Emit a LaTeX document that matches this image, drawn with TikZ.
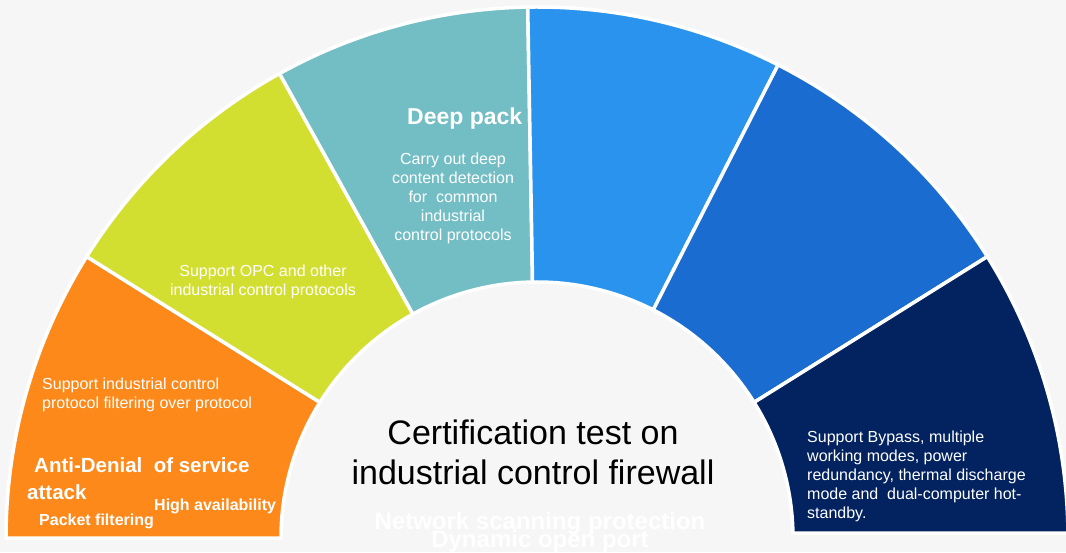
\documentclass[tikz,border=0pt]{standalone}
\usepackage{fontspec}
\setmainfont{Liberation Sans}
\definecolor{bg}{HTML}{F6F6F6}
\definecolor{segorange}{HTML}{FD891B}
\definecolor{segyellow}{HTML}{D3DF30}
\definecolor{segteal}{HTML}{72BEC4}
\definecolor{segblue}{HTML}{2A93ED}
\definecolor{segmid}{HTML}{1B6CD0}
\definecolor{segnavy}{HTML}{022260}
\tikzset{
  seg/.style={draw=white, line width=3.5pt, line join=round},
  body/.style={text=white, inner sep=0pt, font=\fontsize{16}{19}\selectfont},
  boldlbl/.style={text=white, inner sep=0pt, font=\bfseries\fontsize{#1}{#1}\selectfont},
}
\begin{document}
\begin{tikzpicture}[x=1pt,y=1pt]
\useasboundingbox (0,0) rectangle (1066,552);
\fill[bg] (0,0) rectangle (1066,552);
\begin{scope}[shift={(537,14)}]
  \coordinate (C) at (0,0);
  % orange
  \path[seg, fill=segorange] (180:256) -- (180:531) arc[start angle=180, end angle=148, radius=531]
     -- (148:256) arc[start angle=148, end angle=180, radius=256] -- cycle;
  % yellow
  \path[seg, fill=segyellow] (148:256) -- (148:531) arc[start angle=148, end angle=119, radius=531]
     -- (119:256) arc[start angle=119, end angle=148, radius=256] -- cycle;
  % teal
  \path[seg, fill=segteal] (119:256) -- (119:531) arc[start angle=119, end angle=91, radius=531]
     -- (91:256) arc[start angle=91, end angle=119, radius=256] -- cycle;
  \node[boldlbl=23, anchor=base west] (deep) at (-130,413) {Deep pack};
  % blue
  \path[seg, fill=segblue] (91:256) -- (91:531) arc[start angle=91, end angle=63, radius=531]
     -- (63:256) arc[start angle=63, end angle=91, radius=256] -- cycle;
  % mid blue
  \path[seg, fill=segmid] (63:256) -- (63:531) arc[start angle=63, end angle=32, radius=531]
     -- (32:256) arc[start angle=32, end angle=63, radius=256] -- cycle;
  % navy
  \path[seg, fill=segnavy] (32:256) -- (32:531) arc[start angle=32, end angle=0.54, radius=531]
     -- (1.12:256) arc[start angle=1.12, end angle=32, radius=256] -- cycle;
\end{scope}

% orange texts
\node[body, anchor=base west, align=left] (o1) at (42,143) {Support industrial control\\protocol filtering over protocol};
\node[boldlbl=20.5, anchor=base west] (o2) at (34,79) {Anti-Denial \ of service};
\node[boldlbl=20.5, anchor=base west] (o3) at (27,53) {attack};
\node[boldlbl=16, anchor=base west] (o4) at (154,42) {High availability};
\node[boldlbl=16, anchor=base west] (o5) at (39,27) {Packet filtering};

% yellow text
\node[body, anchor=base, align=center] (y1) at (263,256) {Support OPC and other\\industrial control protocols};

% teal text
\node[body, anchor=base, align=center] (t1) at (453,311) {Carry out deep\\content detection\\for \ common\\industrial\\control protocols};

% navy text
\node[body, anchor=base west, align=left] (n1) at (807,34) {Support Bypass, multiple\\working modes, power\\redundancy, thermal discharge\\mode and \ dual-computer hot-\\standby.};

% centre title
\node[text=black, inner sep=0pt, anchor=base, align=center, font=\fontsize{34}{40}\selectfont] (title) at (533,67) {Certification test on\\industrial control firewall};

% faint labels
\node[boldlbl=24, anchor=base] (ns) at (540,23) {Network scanning protection};
\node[boldlbl=24, anchor=base] (dp) at (540,5) {Dynamic open port};
\end{tikzpicture}
\end{document}
